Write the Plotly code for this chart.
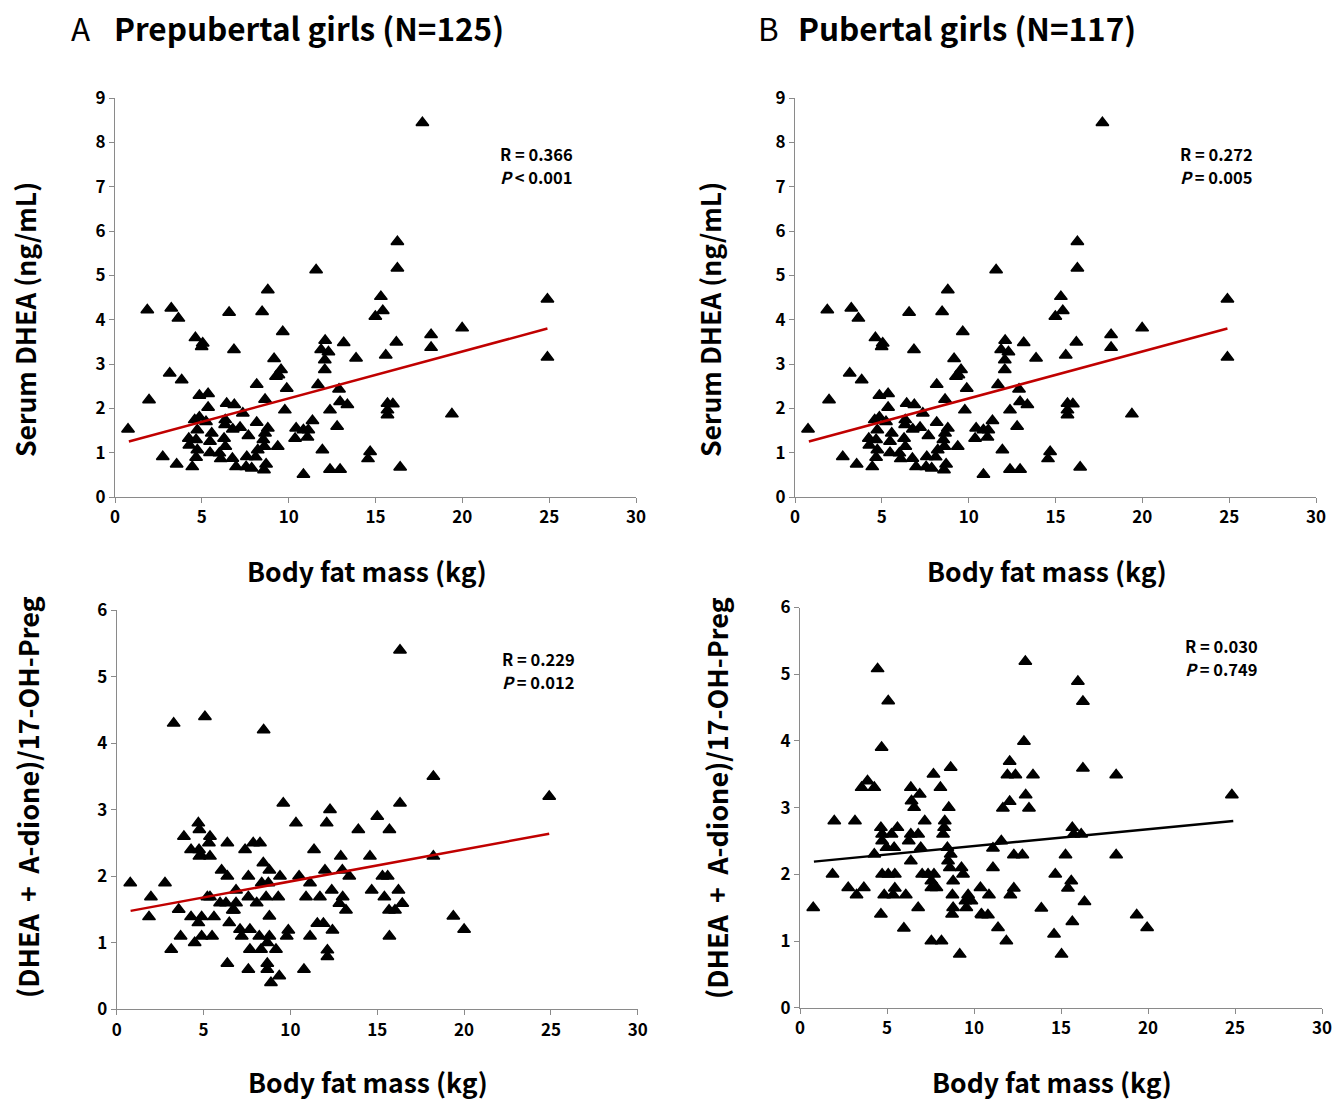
import plotly.graph_objects as go

W, H = 1333, 1102

# ---- Data: serum DHEA vs body fat mass (same in panels A and B, top row)
top_x = [0.75, 1.86, 1.96, 2.75, 3.24, 3.65, 3.15, 3.84, 3.55, 4.45, 4.63, 5.05, 4.99, 4.86, 5.36,
         5.36, 4.59, 4.86, 5.24, 4.74, 4.25, 4.67, 4.28, 4.74, 4.67, 5.57, 5.47, 5.47, 6.01, 6.09,
         6.43, 6.87, 6.57, 6.85, 7.36, 6.35, 6.34, 6.78, 7.2, 6.28, 6.35, 6.76, 6.97, 7.68, 7.59,
         7.55, 7.87, 8.16, 8.16, 8.47, 8.8, 8.64, 8.8, 8.64, 8.54, 8.6, 8.22, 8.1, 8.7, 8.58,
         9.37, 9.66, 9.16, 9.56, 9.41, 9.27, 9.89, 9.78, 10.43, 10.37,
         17.70, 16.26, 16.26, 11.58, 15.31, 15.42, 14.99, 24.9, 24.9, 19.99, 18.2, 18.2, 16.2, 15.59,
         13.17, 13.88, 12.1, 11.87, 12.29, 12.08, 12.08, 11.69, 12.9, 12.96, 13.38, 12.38, 12.79,
         11.37, 10.85, 11.13, 11.08, 11.94, 10.85, 12.38, 12.96, 14.69, 14.57, 16.42, 19.4, 15.69,
         16.0, 15.69, 15.69]
top_y = [1.53, 4.22, 2.19, 0.91, 4.26, 4.03, 2.79, 2.64, 0.74, 0.68, 3.59, 3.47, 3.39, 2.29, 2.33,
         2.02, 1.74, 1.8, 1.70, 1.51, 1.32, 1.29, 1.17, 1.06, 0.89, 1.44, 1.25, 1.0, 0.99, 0.86,
         2.11, 2.08, 4.16, 3.32, 1.89, 1.74, 1.63, 1.53, 1.57, 1.32, 1.14, 0.87, 0.68, 1.38, 0.91,
         0.68, 0.65, 1.68, 2.54, 4.18, 4.67, 2.2, 1.55, 1.44, 1.29, 1.14, 1.06, 0.9, 0.74, 0.61,
         1.14, 3.73, 3.12, 2.87, 2.75, 2.72, 2.45, 1.96, 1.55, 1.32,
         8.44, 5.76, 5.16, 5.12, 4.52, 4.2, 4.07, 4.46, 3.15, 3.81, 3.66, 3.37, 3.49, 3.2,
         3.48, 3.13, 3.53, 3.32, 3.27, 3.09, 2.87, 2.53, 2.43, 2.15, 2.08, 1.96, 1.59,
         1.72, 1.51, 1.51, 1.35, 1.06, 0.51, 0.62, 0.62, 1.02, 0.86, 0.67, 1.87, 2.11,
         2.1, 1.96, 1.85]
fitA_x = [0.8, 24.9]
fitA_y = [1.25, 3.80]

# ---- Panel A bottom: (DHEA + A-dione)/17-OH-Preg, prepubertal
bl_x = [0.78, 1.97, 1.86, 2.78, 3.14, 3.28, 3.68, 3.57, 3.87, 4.28, 4.28, 4.49, 4.7, 4.76, 4.74,
        4.84, 4.76, 5.37, 5.31, 5.37, 5.08, 5.22, 5.37, 4.89, 4.7, 4.89, 5.49, 5.6, 6.37, 6.04,
        6.37, 5.95, 6.29, 6.48, 6.68, 6.87, 6.87, 6.75, 6.37, 7.1, 7.2, 7.39, 7.58, 7.58, 7.67,
        7.67, 7.58, 8.06, 7.86, 8.25, 8.46, 8.44, 8.79, 8.35, 8.73, 8.6, 8.21, 8.31, 8.79, 8.79,
        8.67, 8.67, 8.67, 8.88, 9.17, 9.36, 9.3, 9.4, 9.59, 9.88, 9.79, 10.32,
        16.31, 18.23, 24.9, 16.31, 12.28, 12.09, 15.0, 13.91, 15.7, 11.36, 12.9, 14.58, 18.23,
        11.99, 12.99, 13.39, 10.5, 11.13, 15.3, 15.6, 12.38, 14.68, 16.22, 10.9, 11.7, 13.01,
        15.41, 12.82, 13.2, 16.44, 15.68, 16.02, 11.55, 11.9, 12.42, 11.13, 12.13, 12.13, 10.78,
        15.7, 19.38, 20.0]
bl_y = [1.9, 1.69, 1.39, 1.9, 0.9, 4.3, 1.1, 1.5, 2.6, 2.4, 1.39, 1.0, 2.8, 2.7, 2.4,
        2.32, 2.3, 2.6, 2.5, 2.3, 4.4, 1.69, 1.69, 1.39, 1.3, 1.1, 1.1, 1.39, 2.5, 2.09,
        2.0, 1.6, 1.6, 1.3, 1.49, 1.6, 1.79, 1.49, 0.69, 1.2, 1.1, 2.4, 2.0, 1.69, 1.2,
        0.9, 0.6, 1.6, 2.5, 2.5, 4.2, 2.2, 2.09, 1.9, 1.9, 1.69, 1.1, 0.9, 1.4, 1.1,
        1.0, 0.69, 0.6, 0.4, 0.9, 0.5, 1.69, 2.0, 3.1, 1.19, 1.1, 2.8,
        5.4, 3.5, 3.2, 3.1, 3.0, 2.8, 2.9, 2.7, 2.7, 2.4, 2.3, 2.3, 2.3,
        2.09, 2.09, 2.0, 2.0, 1.9, 2.0, 2.0, 1.79, 1.79, 1.79, 1.69, 1.69, 1.69,
        1.69, 1.59, 1.49, 1.59, 1.49, 1.49, 1.29, 1.29, 1.19, 1.1, 0.89, 0.79, 0.6,
        1.1, 1.4, 1.2]
fitC_x = [0.8, 24.9]
fitC_y = [1.48, 2.64]

# ---- Panel B bottom: (DHEA + A-dione)/17-OH-Preg, pubertal
br_x = [0.76, 1.87, 1.97, 2.77, 3.16, 3.25, 3.67, 3.88, 3.54, 4.27, 4.27, 4.46, 4.69, 5.07, 4.65,
        4.72, 4.72, 4.97, 5.26, 5.6, 5.41, 4.72, 5.07, 5.45, 4.84, 5.45, 5.35, 4.65, 6.08, 5.97,
        6.37, 6.88, 6.41, 6.56, 6.25, 6.37, 6.79, 7.17, 6.37, 6.94, 6.79, 7.02, 7.36, 7.7, 7.55,
        7.55, 7.84, 7.67, 8.07, 8.66, 8.55, 8.32, 8.28, 8.22, 8.47, 8.66, 8.51, 8.61, 9.28, 9.37,
        8.8, 8.76, 8.8, 8.74, 9.66, 9.51, 9.56, 9.85, 10.37, 10.42, 7.55, 8.13, 9.18,
        12.95, 15.97, 16.26, 12.87, 12.05, 11.92, 12.38, 13.39, 16.26, 18.17, 12.97, 12.05, 11.66,
        13.16, 24.82, 15.65, 15.73, 16.16, 11.57, 11.09, 12.29, 12.78, 15.26, 18.17, 11.09, 14.67,
        10.86, 12.29, 12.09, 15.59, 15.4, 16.35, 13.87, 10.46, 10.8, 11.38, 11.86, 15.65, 19.35,
        19.95, 14.6, 15.03]
br_y = [1.5, 2.0, 2.8, 1.8, 2.8, 1.69, 1.8, 3.4, 3.3, 3.3, 2.3, 5.08, 3.9, 4.6, 2.7,
        2.6, 2.5, 2.4, 2.6, 2.7, 2.4, 2.0, 2.0, 2.0, 1.69, 1.79, 1.69, 1.4, 1.69, 1.19,
        3.3, 3.2, 3.1, 3.0, 2.5, 2.6, 2.6, 2.8, 2.2, 2.4, 1.5, 2.0, 2.0, 2.0, 1.9,
        1.8, 1.8, 3.5, 3.3, 3.6, 3.0, 2.8, 2.7, 2.6, 2.4, 2.3, 2.2, 2.1, 2.1, 2.0,
        1.9, 1.69, 1.5, 1.4, 1.69, 1.6, 1.5, 1.6, 1.8, 1.4, 1.0, 1.0, 0.8,
        5.19, 4.89, 4.59, 3.99, 3.69, 3.49, 3.49, 3.49, 3.59, 3.49, 3.19, 3.09, 2.99,
        2.99, 3.19, 2.7, 2.6, 2.6, 2.5, 2.39, 2.29, 2.29, 2.29, 2.29, 2.1, 2.0,
        1.69, 1.79, 1.69, 1.9, 1.79, 1.59, 1.49, 1.39, 1.39, 1.2, 1.0, 1.29, 1.39,
        1.2, 1.1, 0.8]
fitD_x = [0.8, 24.9]
fitD_y = [2.19, 2.80]

x_ticks = [0, 5, 10, 15, 20, 25, 30]
top_y_ticks = [0, 1, 2, 3, 4, 5, 6, 7, 8, 9]
bot_y_ticks = [0, 1, 2, 3, 4, 5, 6]

stats = [("R = 0.366", "<i>P</i> &lt; 0.001"),
         ("R = 0.272", "<i>P</i> = 0.005"),
         ("R = 0.229", "<i>P</i> = 0.012"),
         ("R = 0.030", "<i>P</i> = 0.749")]

FONT = "Noto Sans CJK KR"
AX_COLOR = "#8a8a8a"


def px(x):
    return x / W


def py(y):
    return 1 - y / H


fig = go.Figure()

panels = [
    # (xdata, ydata, fitx, fity, fitcolor, xdomain px, ydomain px, yrange, yticks)
    (top_x, top_y, fitA_x, fitA_y, "#c00000", (115, 636), (98, 497), 9, top_y_ticks),
    (top_x, top_y, fitA_x, fitA_y, "#c00000", (795, 1316), (98, 497), 9, top_y_ticks),
    (bl_x, bl_y, fitC_x, fitC_y, "#c00000", (116.7, 637.8), (610.3, 1009.3), 6, bot_y_ticks),
    (br_x, br_y, fitD_x, fitD_y, "#000000", (800, 1322), (607.5, 1007.7), 6, bot_y_ticks),
]

layout_axes = {}
for i, (xs, ys, fx, fy, fc, xd, yd, ymax, yt) in enumerate(panels):
    n = "" if i == 0 else str(i + 1)
    xa, ya = "x" + n, "y" + n
    fig.add_trace(go.Scatter(x=xs, y=ys, mode="markers", xaxis=xa, yaxis=ya,
                             marker=dict(symbol="triangle-up", size=11, color="black",
                                         line=dict(color="black", width=1.5)),
                             showlegend=False, cliponaxis=False))
    fig.add_trace(go.Scatter(x=fx, y=fy, mode="lines", xaxis=xa, yaxis=ya,
                             line=dict(color=fc, width=2.5), showlegend=False))
    common = dict(showline=True, linecolor=AX_COLOR, linewidth=1, ticks="outside",
                  ticklen=5, tickcolor=AX_COLOR, showgrid=False, zeroline=False,
                  automargin=False, ticklabeloverflow="allow",
                  tickfont=dict(family=FONT, size=17, color="black", weight="bold"))
    layout_axes["xaxis" + n] = dict(domain=[px(xd[0]), px(xd[1])], range=[0, 30],
                                    tickvals=x_ticks, anchor=ya, **common)
    layout_axes["yaxis" + n] = dict(domain=[py(yd[1]), py(yd[0])], range=[0, ymax],
                                    tickvals=yt, anchor=xa, **common)

fig.update_layout(**layout_axes)

ann = []
# panel titles
for t, x in [("A", 69), ("<b>Prepubertal girls (N=125)</b>", 112),
             ("B", 756), ("<b>Pubertal girls (N=117)</b>", 796)]:
    ann.append(dict(text=t, x=px(x), y=py(27), xref="paper", yref="paper", xanchor="left",
                    yanchor="middle", showarrow=False,
                    font=dict(family=FONT, size=31.5, color="black")))

# axis titles
for cx, cy in [(367, 570), (1047, 570), (368, 1081), (1052, 1081)]:
    ann.append(dict(text="<b>Body fat mass (kg)</b>", x=px(cx), y=py(cy), xref="paper",
                    yref="paper", xanchor="center", yanchor="middle", showarrow=False,
                    font=dict(family=FONT, size=26.5, color="black")))
for cx, cy, t, fs in [(25, 320, "Serum DHEA (ng/mL)", 26.5), (710, 320, "Serum DHEA (ng/mL)", 26.5),
                      (27, 797, "(DHEA + A-dione)/17-OH-Preg", 27),
                      (716, 798, "(DHEA + A-dione)/17-OH-Preg", 27)]:
    ann.append(dict(text="<b>" + t.replace(" + ", "&nbsp; +&nbsp; ") + "</b>", x=px(cx), y=py(cy),
                    xref="paper", yref="paper",
                    xanchor="center", yanchor="middle", showarrow=False, textangle=-90,
                    font=dict(family=FONT, size=fs, color="black")))

# statistics
for (r, p), (sx, sy) in zip(stats, [(498, 154), (1178, 154), (500, 659), (1183, 646)]):
    for k, t in enumerate([r, p]):
        ann.append(dict(text="<b>" + t + "</b>", x=px(sx), y=py(sy + 23 * k), xref="paper",
                        yref="paper", xanchor="left", yanchor="middle", showarrow=False,
                        font=dict(family=FONT, size=16.5, color="black")))

fig.update_layout(annotations=ann, width=W, height=H, margin=dict(l=0, r=0, t=0, b=0),
                  paper_bgcolor="white", plot_bgcolor="white")

fig.write_html("out.html", config={"displayModeBar": False},
               post_script="document.body.style.margin='0';document.body.style.overflow='hidden';")
